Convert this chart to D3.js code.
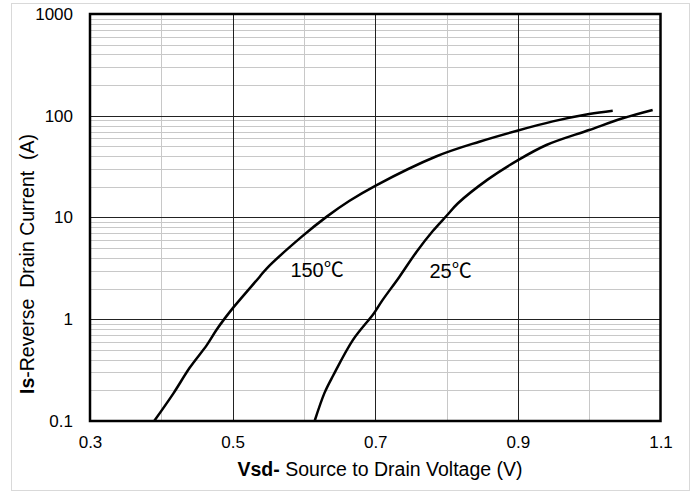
<!DOCTYPE html>
<html>
<head>
<meta charset="utf-8">
<script src="https://cdn.jsdelivr.net/npm/d3@7"></script>
<style>
  body { margin: 0; background: #fff; }
  svg { display: block; font-family: "Liberation Sans", Arial, sans-serif; }
</style>
</head>
<body>
<div id="chart"></div>
<script>
// data
const vsd150 = [0.390, 0.417, 0.440, 0.464, 0.477, 0.489, 0.500, 0.538, 0.548, 0.597, 0.632, 0.664, 0.700, 0.786, 0.846, 0.899, 0.949, 1.000, 1.033]
const is150 = [0.1, 0.187, 0.335, 0.56, 0.78, 1.02, 1.28, 2.62, 3.17, 6.48, 10.2, 14.6, 20.5, 40.0, 55.6, 71.3, 88.0, 104, 112]
const vsd25 = [0.615, 0.629, 0.641, 0.669, 0.698, 0.709, 0.734, 0.758, 0.781, 0.800, 0.816, 0.858, 0.899, 0.940, 1.000, 1.047, 1.089]
const is25 = [0.1, 0.19, 0.28, 0.63, 1.14, 1.5, 2.62, 4.61, 7.4, 10.4, 13.8, 23.7, 36.2, 51.6, 72.4, 94.4, 114]
const xTicks = [0.3, 0.5, 0.7, 0.9, 1.1]
const xMinor = [0.4, 0.6, 0.8, 1.0]
const yTicks = [0.1, 1, 10, 100, 1000]
const seriesLabels = ['150\u2103', '25\u2103']

// constants
const width = 694
const height = 493
const margin = {left: 90, top: 14, right: 33, bottom: 72}

const svg = d3.select('#chart')
  .append('svg')
  .attr('width', width)
  .attr('height', height)

// outer light border
svg.append('rect')
  .attr('x', 11.5).attr('y', 3.5)
  .attr('width', 678).attr('height', 487)
  .attr('fill', 'none')
  .attr('stroke', '#d9d9d9')

const xScale = d3.scaleLinear()
  .domain([0.3, 1.1])
  .range([margin.left, width - margin.right - 0.5])

const yScale = d3.scaleLog()
  .domain([0.1, 1000])
  .range([height - margin.bottom, margin.top])

const x0 = xScale.range()[0]
const x1 = xScale.range()[1]
const y0 = yScale.range()[0]
const y1 = yScale.range()[1]

const grid = svg.append('g')

// minor horizontal grid (2..9 in each decade)
const yMinor = yScale.ticks().filter(v => !yTicks.some(t => Math.abs(t - v) < 1e-9))
grid.selectAll('line.hmin')
  .data(yMinor)
  .join('line')
  .attr('class', 'hmin')
  .attr('x1', x0).attr('x2', x1)
  .attr('y1', d => Math.round(yScale(d)) + 0.5)
  .attr('y2', d => Math.round(yScale(d)) + 0.5)
  .attr('stroke', '#c8c8c8')
  .attr('stroke-width', 1)

grid.selectAll('line.vmin')
  .data(xMinor)
  .join('line')
  .attr('class', 'vmin')
  .attr('y1', y0).attr('y2', y1)
  .attr('x1', d => Math.round(xScale(d)) + 0.5)
  .attr('x2', d => Math.round(xScale(d)) + 0.5)
  .attr('stroke', '#c8c8c8')
  .attr('stroke-width', 1)

// major grid
grid.selectAll('line.hmaj')
  .data(yTicks.slice(1, -1))
  .join('line')
  .attr('class', 'hmaj')
  .attr('x1', x0).attr('x2', x1)
  .attr('y1', d => Math.round(yScale(d)) + 0.5)
  .attr('y2', d => Math.round(yScale(d)) + 0.5)
  .attr('stroke', '#222')
  .attr('stroke-width', 1)

grid.selectAll('line.vmaj')
  .data(xTicks.slice(1, -1))
  .join('line')
  .attr('class', 'vmaj')
  .attr('y1', y0).attr('y2', y1)
  .attr('x1', d => Math.round(xScale(d)) + 0.5)
  .attr('x2', d => Math.round(xScale(d)) + 0.5)
  .attr('stroke', '#222')
  .attr('stroke-width', 1)

// curves
const line = d3.line()
  .x(d => xScale(d[0]))
  .y(d => yScale(d[1]))
  .curve(d3.curveCatmullRom.alpha(0.5))

const series = [d3.zip(vsd150, is150), d3.zip(vsd25, is25)]
svg.selectAll('path.curve')
  .data(series)
  .join('path')
  .attr('class', 'curve')
  .attr('d', line)
  .attr('fill', 'none')
  .attr('stroke', '#000')
  .attr('stroke-width', 2.5)
  .attr('stroke-linejoin', 'round')

// plot frame
svg.append('rect')
  .attr('x', x0).attr('y', y1)
  .attr('width', x1 - x0).attr('height', y0 - y1)
  .attr('fill', 'none')
  .attr('stroke', '#000')
  .attr('stroke-width', 2.5)

// axes
const yAxis = d3.axisLeft(yScale)
  .tickValues(yTicks)
  .tickSize(0)
  .tickPadding(17)
  .tickFormat(d => String(d))
svg.append('g')
  .attr('transform', `translate(${x0},0)`)
  .call(yAxis)
  .call(g => g.select('.domain').remove())
  .call(g => g.selectAll('text').attr('font-size', 17).attr('fill', '#000').attr('font-family', null))

const xAxis = d3.axisBottom(xScale)
  .tickValues(xTicks)
  .tickSize(0)
  .tickPadding(15)
  .tickFormat(d3.format('.1f'))
svg.append('g')
  .attr('transform', `translate(0,${y0})`)
  .call(xAxis)
  .call(g => g.select('.domain').remove())
  .call(g => g.selectAll('text').attr('font-size', 17).attr('fill', '#000').attr('font-family', null))

// curve labels
const labelFont = '"Liberation Sans", Arial, "Noto Sans CJK SC", sans-serif'
svg.append('text')
  .attr('x', xScale(0.581)).attr('y', yScale(2.6))
  .attr('font-size', 20)
  .attr('font-family', labelFont)
  .text(seriesLabels[0])
svg.append('text')
  .attr('x', xScale(0.776)).attr('y', yScale(2.55))
  .attr('font-size', 20)
  .attr('font-family', labelFont)
  .text(seriesLabels[1])

// axis titles
const xt = svg.append('text')
  .attr('x', 380).attr('y', 476)
  .attr('text-anchor', 'middle')
  .attr('font-size', 19.5)
xt.append('tspan').attr('font-weight', 'bold').text('Vsd-')
xt.append('tspan').text(' Source to Drain Voltage (V)')

const yt = svg.append('text')
  .attr('transform', 'translate(34,264) rotate(-90)')
  .attr('text-anchor', 'middle')
  .attr('font-size', 19.5)
  .attr('xml:space', 'preserve')
yt.append('tspan').attr('font-weight', 'bold').text('Is')
yt.append('tspan').text('-Reverse  Drain Current  (A)')
</script>
</body>
</html>
